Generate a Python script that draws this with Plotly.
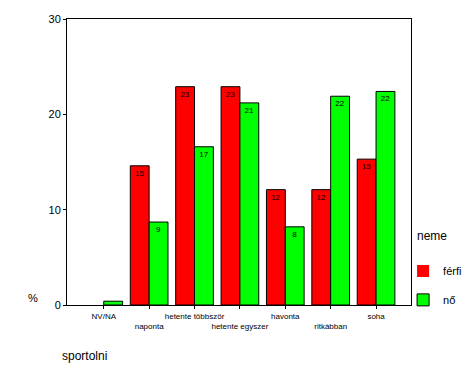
import plotly.graph_objects as go

categories = ["NV/NA", "naponta", "hetente többször", "hetente egyszer", "havonta", "ritkábban", "soha"]
ferfi = [0.0, 14.6, 22.9, 22.9, 12.1, 12.1, 15.3]
no = [0.4, 8.7, 16.6, 21.2, 8.2, 21.9, 22.4]
y_ticks = [0, 10, 20, 30]

def labels(vals):
    return [str(int(round(v))) if v >= 1 else "" for v in vals]

x = list(range(len(categories)))
ticktext = [c if i % 2 == 0 else "<br>" + c for i, c in enumerate(categories)]

fig = go.Figure()
for name, vals, col in [("férfi", ferfi, "#FF0000"), ("nő", no, "#00FF00")]:
    fig.add_trace(go.Bar(
        x=x, y=vals, name=name, legendgroup=name,
        marker=dict(color=col, line=dict(color="black",
                                         width=[0 if v == 0 else 1 for v in vals])),
        text=labels(vals), textposition="inside", insidetextanchor="end",
        textangle=0, textfont=dict(size=8, color="black", family="Arial"),
        constraintext="none",
    ))

fig.update_layout(
    width=470, height=377,
    margin=dict(l=67, r=59, t=19, b=72, autoexpand=False),
    paper_bgcolor="white", plot_bgcolor="white",
    barmode="group", bargap=0.17, bargroupgap=0,
    font=dict(family="Arial", color="black", size=11),
    showlegend=True,
    legend=dict(x=0.977, xanchor="left", y=0.17, yanchor="top",
                font=dict(size=11), tracegroupgap=10, bgcolor="rgba(0,0,0,0)"),
    xaxis=dict(range=[-0.81, 6.77], tickvals=x, ticktext=ticktext,
               tickfont=dict(size=8), ticks="outside", ticklen=3, tickcolor="black",
               showline=True, linecolor="black", linewidth=1, mirror=True,
               showgrid=False, zeroline=False, tickangle=0, automargin=False),
    yaxis=dict(range=[0, 30], tickvals=y_ticks, ticks="outside", ticklen=3,
               tickcolor="black", showline=True, linecolor="black", linewidth=1,
               mirror=True, showgrid=False, zeroline=False, tickfont=dict(size=11),
               automargin=False),
    annotations=[
        dict(text="%", xref="paper", yref="paper", x=-0.1, y=0.025, showarrow=False,
             xanchor="center", yanchor="middle", font=dict(size=11)),
        dict(text="neme", xref="paper", yref="paper", x=1.012, y=0.24, showarrow=False,
             xanchor="left", yanchor="middle", font=dict(size=12)),
        dict(text="sportolni", xref="paper", yref="paper", x=-0.02, y=-0.18,
             showarrow=False, xanchor="left", yanchor="middle", font=dict(size=12)),
    ],
)

fig.write_html("out.html", config={"displayModeBar": False},
               post_script="document.body.style.margin='0';")
